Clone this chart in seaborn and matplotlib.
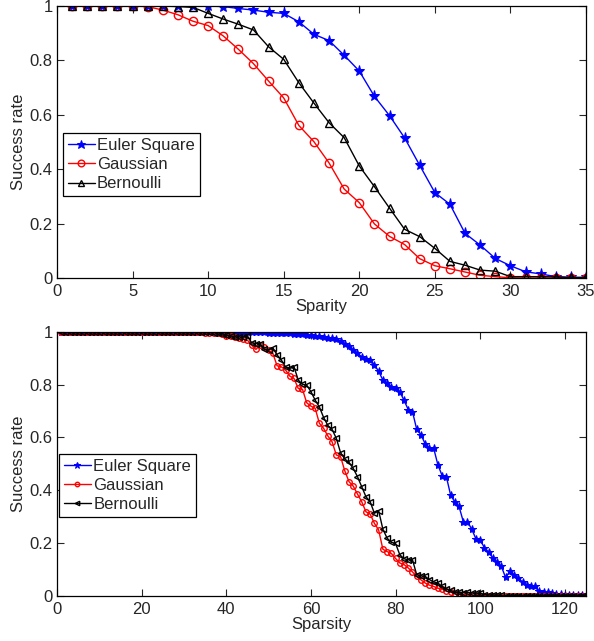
import matplotlib
matplotlib.use("Agg")
import matplotlib.pyplot as plt
import seaborn as sns
import numpy as np

# top panel: sparsity 1..35
sparsity_top = list(range(1, 36))
euler_top = [1.0] * 10 + [0.998, 0.991, 0.985, 0.977, 0.973, 0.942, 0.896, 0.873, 0.819, 0.761,
                          0.668, 0.597, 0.515, 0.414, 0.314, 0.271, 0.164, 0.121, 0.072, 0.045,
                          0.023, 0.015, 0.005, 0.002, 0.002]
gauss_top = [1.0] * 5 + [0.998, 0.985, 0.968, 0.944, 0.928, 0.890, 0.841, 0.788, 0.724, 0.662,
                         0.561, 0.501, 0.423, 0.327, 0.277, 0.199, 0.153, 0.123, 0.071, 0.045,
                         0.034, 0.022, 0.010, 0.005, 0.001, 0.0, 0.0, 0.0, 0.0, 0.0]
bern_top = [1.0] * 7 + [0.998, 0.995, 0.973, 0.952, 0.933, 0.912, 0.850, 0.804, 0.718, 0.643,
                        0.571, 0.516, 0.412, 0.336, 0.257, 0.179, 0.152, 0.109, 0.061, 0.047,
                        0.029, 0.025, 0.005, 0.005, 0.005, 0.004, 0.002, 0.002]

# bottom panel: sparsity 1..125
sparsity_bot = list(range(1, 126))
euler_bot = [1.0] * 45 + [
    0.999, 0.999, 0.998, 0.998, 0.997, 0.997, 0.996, 0.995, 0.995, 0.994,
    0.993, 0.992, 0.990, 0.988, 0.986, 0.984, 0.982, 0.981, 0.978, 0.975,
    0.972, 0.964, 0.955, 0.945, 0.932, 0.918, 0.905, 0.898, 0.893, 0.875,
    0.850, 0.817, 0.805, 0.792, 0.785, 0.773, 0.740, 0.705, 0.697, 0.630,
    0.610, 0.575, 0.560, 0.559, 0.496, 0.455, 0.451, 0.382, 0.355, 0.338,
    0.281, 0.280, 0.252, 0.215, 0.210, 0.182, 0.165, 0.143, 0.128, 0.111,
    0.069, 0.092, 0.080, 0.067, 0.052, 0.039, 0.037, 0.035, 0.016, 0.015,
    0.013, 0.012, 0.008, 0.006, 0.004, 0.003, 0.002, 0.001, 0.001, 0.0]
gauss_bot = [1.0] * 33 + [
    0.998, 0.997, 0.996, 0.995, 0.994, 0.990, 0.984, 0.982, 0.979, 0.975,
    0.971, 0.968, 0.949, 0.933, 0.949, 0.941, 0.931, 0.918, 0.871, 0.867,
    0.855, 0.832, 0.823, 0.785, 0.782, 0.731, 0.718, 0.710, 0.653, 0.634,
    0.605, 0.583, 0.533, 0.527, 0.473, 0.432, 0.415, 0.385, 0.356, 0.318,
    0.309, 0.274, 0.249, 0.176, 0.167, 0.160, 0.141, 0.124, 0.118, 0.105,
    0.090, 0.073, 0.060, 0.048, 0.040, 0.035, 0.028, 0.025, 0.018, 0.013,
    0.008, 0.004, 0.003, 0.002, 0.001] + [0.0] * 27
bern_bot = [1.0] * 33 + [
    0.999, 0.998, 0.998, 0.997, 0.996, 0.992, 0.987, 0.984, 0.981, 0.980,
    0.979, 0.984, 0.958, 0.955, 0.955, 0.933, 0.931, 0.939, 0.912, 0.893,
    0.867, 0.861, 0.867, 0.817, 0.801, 0.798, 0.773, 0.741, 0.715, 0.675,
    0.645, 0.630, 0.596, 0.542, 0.518, 0.505, 0.482, 0.451, 0.413, 0.375,
    0.356, 0.312, 0.322, 0.252, 0.218, 0.202, 0.198, 0.155, 0.140, 0.136,
    0.136, 0.079, 0.075, 0.073, 0.061, 0.052, 0.048, 0.035, 0.025, 0.020,
    0.013, 0.013, 0.012, 0.013, 0.010, 0.010, 0.010, 0.004, 0.003, 0.002,
    0.002, 0.001] + [0.0] * 20

sns.set_style("white")
plt.rcParams["font.family"] = ["Liberation Sans", "DejaVu Sans"]
plt.rcParams["font.size"] = 12

fig = plt.figure(figsize=(5.94, 6.41), dpi=100)
ax1 = fig.add_axes([0.096, 0.5663, 0.8905, 0.4243])
ax2 = fig.add_axes([0.096, 0.0707, 0.8905, 0.4118])


def draw(ax, x, e, g, b, tri, ms, xlim, xticks, xlabel, leg_anchor):
    sns.lineplot(x=x, y=e, ax=ax, color="blue", marker="*", markersize=ms + 2,
                 markeredgecolor="blue", linewidth=1, label="Euler Square")
    sns.lineplot(x=x, y=g, ax=ax, color="red", marker="o", markersize=ms,
                 markerfacecolor="none", markeredgecolor="red", markeredgewidth=1,
                 linewidth=1, label="Gaussian")
    sns.lineplot(x=x, y=b, ax=ax, color="black", marker=tri, markersize=ms,
                 markerfacecolor="none", markeredgecolor="black", markeredgewidth=1,
                 linewidth=1, label="Bernoulli")
    ax.set_xlim(*xlim)
    ax.set_ylim(0, 1)
    ax.set_xticks(xticks)
    ax.set_yticks([0, 0.2, 0.4, 0.6, 0.8, 1])
    ax.set_yticklabels(["0", "0.2", "0.4", "0.6", "0.8", "1"])
    ax.tick_params(direction="in", length=5, width=0.8, top=True, right=True,
                   bottom=True, left=True, labelsize=12)
    ax.tick_params(axis="x", pad=4.5)
    ax.tick_params(axis="y", pad=3)
    for s in ax.spines.values():
        s.set_color("black")
        s.set_linewidth(0.9)
    ax.set_xlabel(xlabel, fontsize=12, labelpad=0)
    ax.set_ylabel("Success rate", fontsize=12, labelpad=3)
    leg = ax.legend(loc="upper left", bbox_to_anchor=leg_anchor, fontsize=12,
                    frameon=True, fancybox=False, edgecolor="black", framealpha=1,
                    handlelength=1.6, handletextpad=0.15, borderpad=0.3,
                    labelspacing=0.25, borderaxespad=0, markerscale=0.8)
    leg.get_frame().set_linewidth(0.9)


draw(ax1, sparsity_top, euler_top, gauss_top, bern_top, "^", 6,
     (0, 35), list(range(0, 36, 5)), "Sparity", (0.011, 0.533))
draw(ax2, sparsity_bot, euler_bot, gauss_bot, bern_bot, "<", 4,
     (0, 125), list(range(0, 121, 20)), "Sparsity", (0.004, 0.537))

fig.savefig("out.png", dpi=100)
